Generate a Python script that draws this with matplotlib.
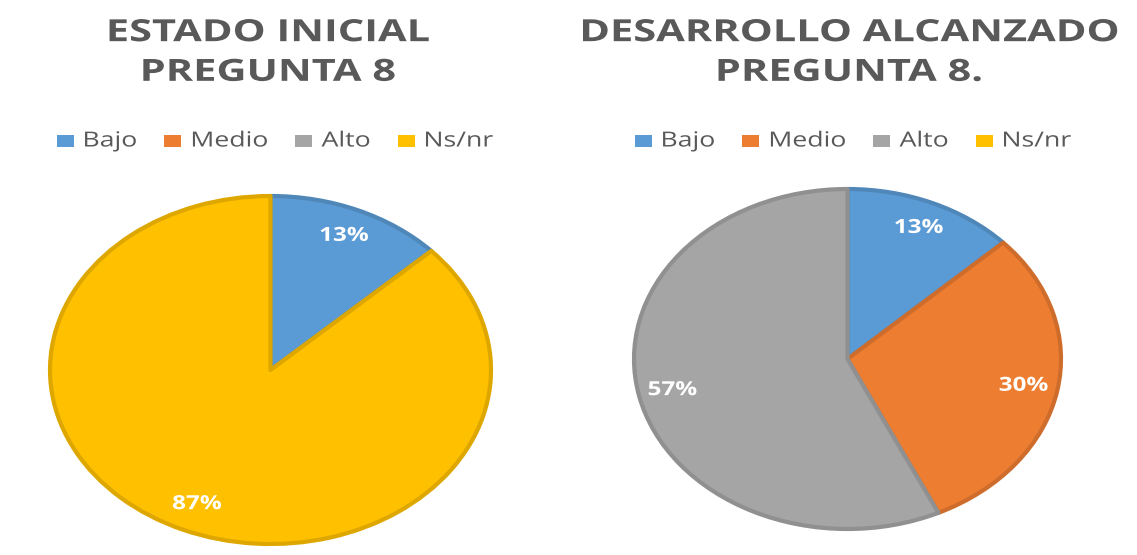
import matplotlib
matplotlib.use("Agg")
import matplotlib.pyplot as plt
from matplotlib.colors import to_rgb
from matplotlib.patches import Rectangle
from matplotlib.patheffects import AbstractPathEffect
from matplotlib.transforms import Affine2D

plt.rcParams['font.family'] = ['Open Sans', 'DejaVu Sans']

categories = ["Bajo", "Medio", "Alto", "Ns/nr"]
colors = ["#5B9BD5", "#ED7D31", "#A5A5A5", "#FFC000"]

initial_values = [13, 0, 0, 87]
reached_values = [13, 30, 57, 0]

titles = ["ESTADO INICIAL\nPREGUNTA 8", "DESARROLLO ALCANZADO\nPREGUNTA 8."]

W, H = 1137, 555
TEXT_GREY = "#595959"
fig = plt.figure(figsize=(W / 100, H / 100), dpi=100)
fig.patch.set_facecolor("white")


class HStretch(AbstractPathEffect):
    """Widen each text line horizontally about its own centre."""

    def __init__(self, sx):
        super().__init__()
        self.sx = sx

    def draw_path(self, renderer, gc, tpath, affine, rgbFace=None):
        ext = tpath.get_extents()
        cx = (ext.x0 + ext.x1) / 2
        pre = Affine2D().translate(-cx, 0).scale(self.sx, 1).translate(cx, 0)
        renderer.draw_path(gc, tpath, pre + affine, rgbFace)


def box(x0, y0, x1, y1):
    """Pixel box (top-left origin) -> figure fraction rect."""
    return [x0 / W, 1 - y1 / H, (x1 - x0) / W, (y1 - y0) / H]


def darker(c, f=0.87):
    r, g, b = to_rgb(c)
    return (r * f, g * f, b * f)


def pct_label(p):
    return f"{p:.0f}%" if p > 0.5 else ""


def draw_legend(cx, cy, sx=1.28, fs=15, sq_w=17, sq_h=12, pad=9, gap=27):
    """Horizontal legend built from the category names and colours."""
    renderer = fig.canvas.get_renderer()
    labels = []
    widths = []
    for name in categories:
        t = fig.text(0, 1 - cy / H, name, ha="center", va="center",
                     fontsize=fs, color=TEXT_GREY,
                     path_effects=[HStretch(sx)])
        labels.append(t)
        widths.append(t.get_window_extent(renderer).width * sx)
    total = sum(widths) + len(categories) * (sq_w + pad) + gap * (len(categories) - 1)
    x = cx - total / 2
    for t, w, c in zip(labels, widths, colors):
        fig.patches.append(Rectangle((x / W, 1 - (cy + sq_h / 2) / H),
                                     sq_w / W, sq_h / H, facecolor=c,
                                     edgecolor="none",
                                     transform=fig.transFigure, figure=fig))
        x += sq_w + pad
        t.set_x((x + w / 2) / W)
        x += w + gap


panels = [
    (initial_values, box(50, 196, 491, 544), 268, 275),
    (reached_values, box(634, 189, 1061, 529), 849, 853),
]

for (values, rect, title_cx, legend_cx), title in zip(panels, titles):
    ax = fig.add_axes(rect)
    wedges, texts, autotexts = ax.pie(
        values, colors=colors, startangle=90, counterclock=False,
        autopct=pct_label, pctdistance=0.84,
        wedgeprops=dict(linewidth=3, joinstyle="round"),
        textprops=dict(color="white", fontsize=14, fontweight="bold"),
    )
    for w, c, v in zip(wedges, colors, values):
        w.set_edgecolor(darker(c))
        if v == 0:
            # empty categories leave no slice (and no outline) on the pie
            w.set_visible(False)
    for t in autotexts:
        t.set_path_effects([HStretch(1.25)])
    ax.set_aspect("auto")
    ax.set_xlim(-1.0, 1.0)
    ax.set_ylim(-1.0, 1.0)
    ax.axis("off")

    fig.text(title_cx / W, 1 - 53 / H, title, ha="center", va="center",
             fontsize=22, fontweight="bold", color=TEXT_GREY,
             linespacing=1.42, path_effects=[HStretch(1.36)])

    draw_legend(legend_cx, 141)

fig.savefig("out.png", dpi=100, facecolor="white")
